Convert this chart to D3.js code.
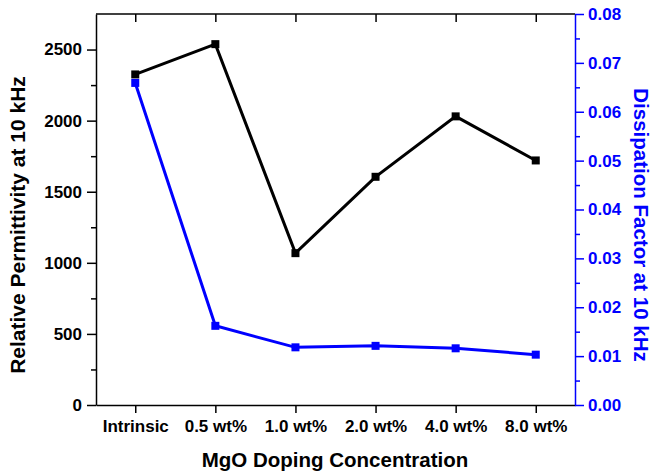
<!DOCTYPE html>
<html><head><meta charset="utf-8">
<script src="https://cdn.jsdelivr.net/npm/d3@7"></script>
<style>body{margin:0;background:#fff}svg{display:block}text{font-family:"Liberation Sans",Arial,sans-serif;font-weight:bold}</style>
</head><body>
<svg id="c" width="654" height="475"></svg>
<script>
const categories = ["Intrinsic","0.5 wt%","1.0 wt%","2.0 wt%","4.0 wt%","8.0 wt%"];
const permittivity = [2325, 2538, 1068, 1605, 2030, 1720];
const dissipation = [0.0659, 0.0162, 0.0118, 0.0121, 0.0116, 0.0103];
const leftTicks = [0,500,1000,1500,2000,2500];
const rightTicks = [0,0.01,0.02,0.03,0.04,0.05,0.06,0.07,0.08];
const leftTitle = "Relative Permittivity at 10 kHz";
const rightTitle = "Dissipation Factor at 10 kHz";
const xTitle = "MgO Doping Concentration";

const svg = d3.select("#c");
const L=96, R=575, T=14, B=405;
const blue="#0000ff";
const x = d3.scalePoint().domain(categories).range([L,R]).padding(0.49);
const yL = d3.scaleLinear().domain([0,2750]).range([B,T]);
const yR = d3.scaleLinear().domain([0,0.08]).range([B,T]);

svg.append("line").attr("x1",L).attr("x2",R).attr("y1",T).attr("y2",T).attr("stroke","#000").attr("stroke-width",1.5);
svg.append("g").attr("transform",`translate(0,${T})`)
  .call(d3.axisTop(x).tickSize(-8).tickFormat(""))
  .call(g=>{g.select(".domain").remove();g.selectAll("line").attr("stroke-width",1.5);});

svg.append("g").attr("transform",`translate(0,${B})`)
  .call(d3.axisBottom(x).tickSize(8).tickSizeOuter(0).tickPadding(7))
  .call(g=>{g.select(".domain").attr("stroke-width",1.5);g.selectAll("line").attr("stroke-width",1.5);
    g.selectAll("text").attr("font-size",17).attr("fill","#000");});

svg.append("g").attr("transform",`translate(${L},0)`)
  .call(d3.axisLeft(yL).tickValues(d3.range(250,2750,500)).tickSize(5).tickFormat(""))
  .call(g=>{g.select(".domain").remove();g.selectAll("line").attr("stroke-width",1.5);});
svg.append("g").attr("transform",`translate(${L},0)`)
  .call(d3.axisLeft(yL).tickValues(leftTicks).tickSize(9).tickSizeOuter(0).tickPadding(5).tickFormat(d3.format("d")))
  .call(g=>{g.select(".domain").attr("stroke-width",1.5);g.selectAll("line").attr("stroke-width",1.5);
    g.selectAll("text").attr("font-size",17).attr("fill","#000");});

svg.append("g").attr("transform",`translate(${R},0)`)
  .call(d3.axisRight(yR).tickValues(d3.range(0.005,0.08,0.01)).tickSize(5).tickFormat(""))
  .call(g=>{g.select(".domain").remove();g.selectAll("line").attr("stroke",blue).attr("stroke-width",1.5);});
svg.append("g").attr("transform",`translate(${R},0)`)
  .call(d3.axisRight(yR).tickValues(rightTicks).tickSize(9).tickSizeOuter(0).tickPadding(4).tickFormat(d3.format(".2f")))
  .call(g=>{g.select(".domain").attr("stroke",blue).attr("stroke-width",1.5);g.selectAll("line").attr("stroke",blue).attr("stroke-width",1.5);
    g.selectAll("text").attr("font-size",17).attr("fill",blue);});

const lineL = d3.line().x((d,i)=>x(categories[i])).y(d=>yL(d));
const lineR = d3.line().x((d,i)=>x(categories[i])).y(d=>yR(d));
svg.append("path").datum(permittivity).attr("d",lineL).attr("fill","none").attr("stroke","#000").attr("stroke-width",3);
svg.append("path").datum(dissipation).attr("d",lineR).attr("fill","none").attr("stroke",blue).attr("stroke-width",3);
svg.selectAll(".mk").data(permittivity).enter().append("rect")
  .attr("x",(d,i)=>x(categories[i])-4).attr("y",d=>yL(d)-4).attr("width",8).attr("height",8).attr("fill","#000");
svg.selectAll(".mb").data(dissipation).enter().append("rect")
  .attr("x",(d,i)=>x(categories[i])-4).attr("y",d=>yR(d)-4).attr("width",8).attr("height",8).attr("fill",blue);

svg.append("text").attr("transform",`translate(25,225) rotate(-90)`).attr("text-anchor","middle")
  .attr("font-size",21).attr("fill","#000").text(leftTitle);
svg.append("text").attr("transform",`translate(634,225) rotate(90)`).attr("text-anchor","middle")
  .attr("font-size",20.5).attr("fill",blue).text(rightTitle);
svg.append("text").attr("x",335).attr("y",467).attr("text-anchor","middle")
  .attr("font-size",20.5).attr("fill","#000").text(xTitle);
</script>
</body></html>
